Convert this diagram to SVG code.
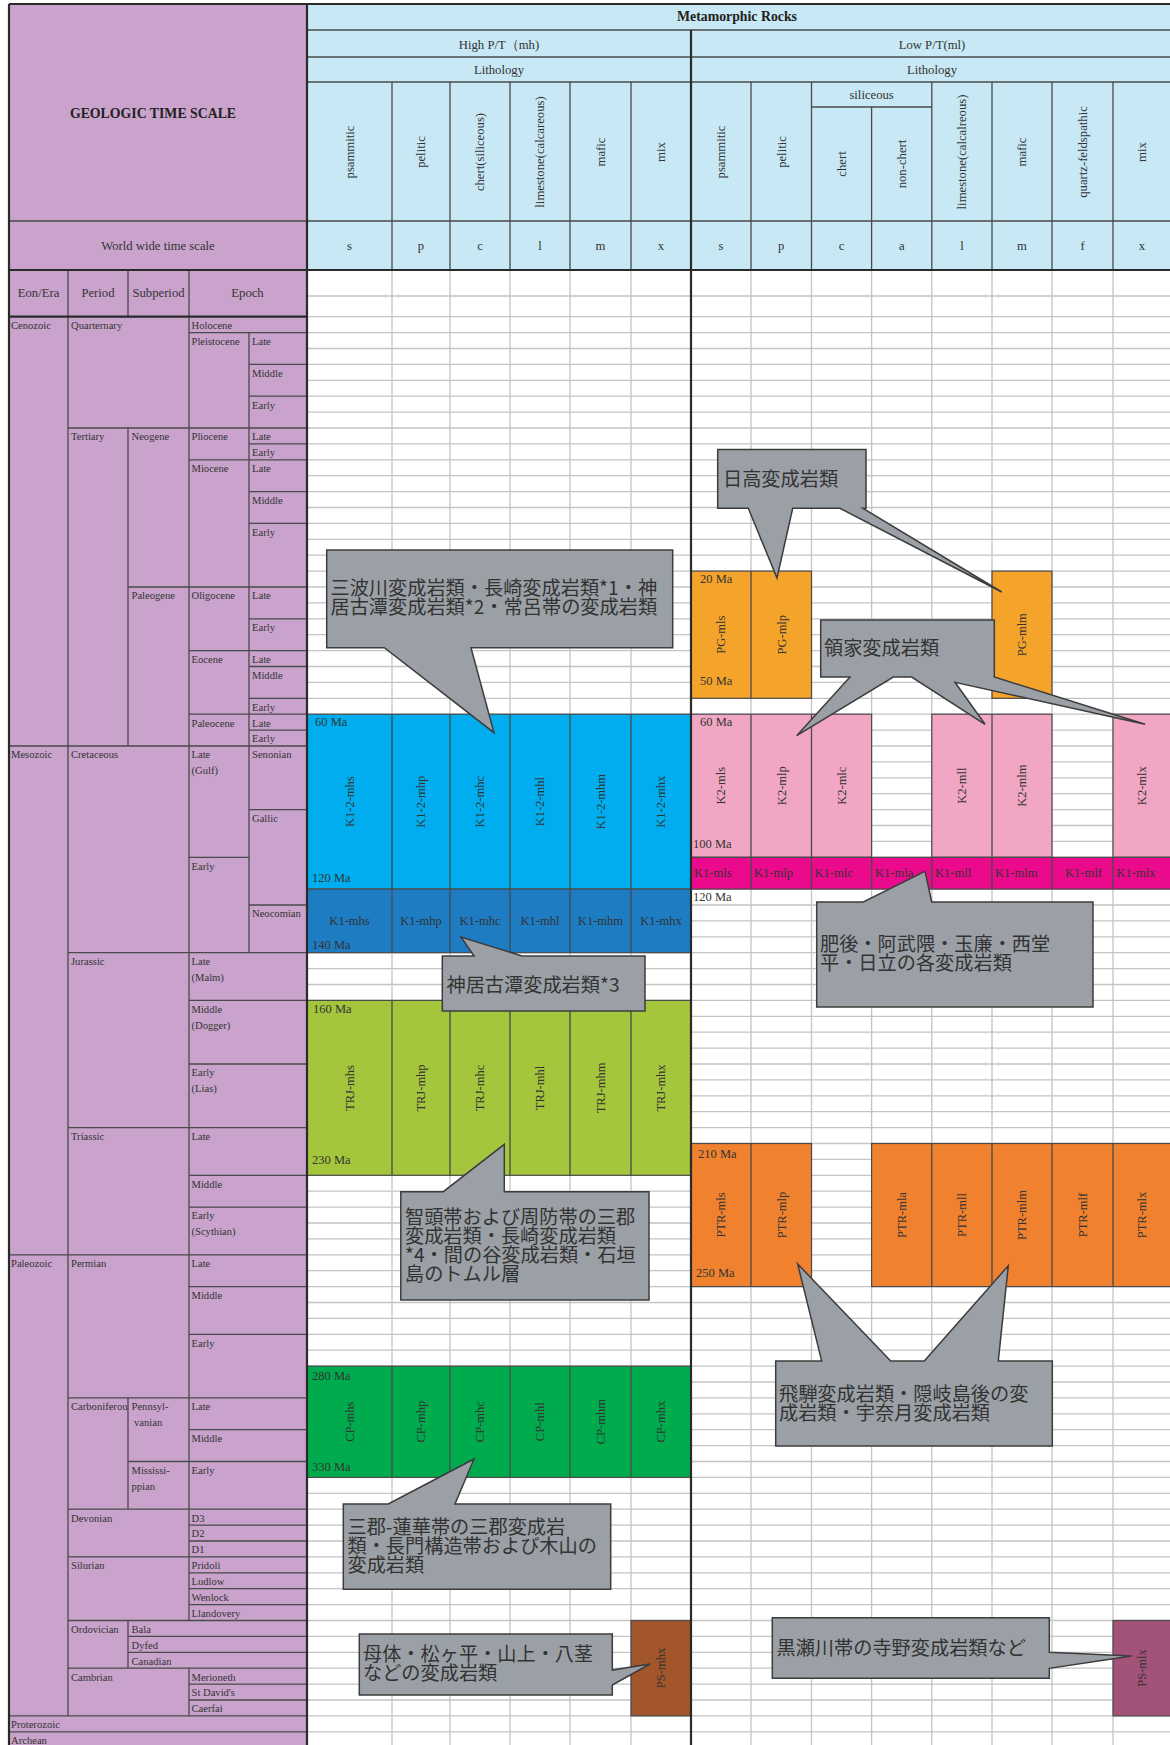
<svg xmlns="http://www.w3.org/2000/svg" width="1170" height="1745" viewBox="0 0 1170 1745">
<style>
.ts{font-family:"Liberation Serif",serif;font-size:10.6px;fill:#333}
.hd{font-family:"Liberation Serif",serif;font-size:12.7px;fill:#333}
.hb{font-family:"Liberation Serif",serif;font-size:13.8px;font-weight:bold;fill:#222}
.bl{font-family:"Liberation Serif",serif;font-size:12.5px;fill:#333}
.co{font-family:"Noto Sans CJK JP",sans-serif;font-size:19.2px;fill:#333}
.ln{stroke:#4a4a4a;stroke-width:1.3;fill:none}
.thick{stroke:#2a2a2a;stroke-width:2.2;fill:none}
.gl{stroke:#c4c4c4;stroke-width:1.3;fill:none}
.blk{stroke:#4a4a4a;stroke-width:1.2}
.call{fill:#9aa0a6;stroke:#3c3c3c;stroke-width:1.5}
.mid{text-anchor:middle}
</style>
<rect width="1170" height="1745" fill="#fff"/>

<!-- Timescale (purple) -->
<g id="timescale">
<rect x="9" y="4" width="298" height="1745" fill="#c9a3cc"/>
<path class="ln" d="M9 221H307 M9 746H307 M9 1254.8H307 M9 1715.9H307 M9 1731.8H307
M68 270V1715.9
M128 270V316.7 M128 428V746 M128 1397.9V1509.2 M128 1620.5V1668.2
M189 270V1620.5 M189 1668.2V1715.9
M249 332.6V952.7
M68 428H307 M68 952.7H307 M68 1127.6H307 M68 1397.9H307 M68 1509.2H307 M68 1556.9H307 M68 1620.5H307 M68 1668.2H307
M128 587H307 M128 1461.5H307 M128 1636.4H307 M128 1652.3H307
M189 332.6H307 M189 459.8H307 M189 650.6H307 M189 714.2H307 M189 1000.4H307 M189 1064H307 M189 1175.3H307 M189 1207.1H307 M189 1286.6H307 M189 1334.3H307 M189 1429.7H307 M189 1525.1H307 M189 1541H307 M189 1572.8H307 M189 1588.7H307 M189 1604.6H307 M189 1684.1H307 M189 1700H307
M189 857.3H249
M249 364.4H307 M249 396.2H307 M249 443.9H307 M249 491.6H307 M249 523.4H307 M249 618.8H307 M249 666.5H307 M249 698.3H307 M249 730.1H307 M249 809.6H307 M249 905H307"/>
<text class="hb mid" x="153" y="117.5">GEOLOGIC TIME SCALE</text>
<text class="hd mid" x="158" y="250">World wide time scale</text>
<text class="hd mid" x="38.5" y="297">Eon/Era</text>
<text class="hd mid" x="98" y="297">Period</text>
<text class="hd mid" x="158.5" y="297">Subperiod</text>
<text class="hd mid" x="247.5" y="297">Epoch</text>
<g class="ts">
<text x="11" y="329">Cenozoic</text>
<text x="11" y="758.3">Mesozoic</text>
<text x="11" y="1267.1">Paleozoic</text>
<text x="11" y="1728.2">Proterozoic</text>
<text x="11" y="1744">Archean</text>
<text x="71" y="329">Quarternary</text>
<text x="71" y="440.3">Tertiary</text>
<text x="71" y="758.3">Cretaceous</text>
<text x="71" y="965">Jurassic</text>
<text x="71" y="1139.9">Triassic</text>
<text x="71" y="1267.1">Permian</text>
<text x="71" y="1410.2">Carboniferou</text>
<text x="71" y="1521.5">Devonian</text>
<text x="71" y="1569.2">Silurian</text>
<text x="71" y="1632.8">Ordovician</text>
<text x="71" y="1680.5">Cambrian</text>
<text x="131.5" y="440.3">Neogene</text>
<text x="131.5" y="599.3">Paleogene</text>
<text x="131.5" y="1410.2">Pennsyl-</text>
<text x="134" y="1426.1">vanian</text>
<text x="131.5" y="1473.8">Mississi-</text>
<text x="131.5" y="1489.7">ppian</text>
<text x="131.5" y="1632.8">Bala</text>
<text x="131.5" y="1648.7">Dyfed</text>
<text x="131.5" y="1664.6">Canadian</text>
<text x="191.5" y="329">Holocene</text>
<text x="191.5" y="344.9">Pleistocene</text>
<text x="191.5" y="440.3">Pliocene</text>
<text x="191.5" y="472.1">Miocene</text>
<text x="191.5" y="599.3">Oligocene</text>
<text x="191.5" y="662.9">Eocene</text>
<text x="191.5" y="726.5">Paleocene</text>
<text x="191.5" y="758.3">Late</text>
<text x="191.5" y="774.2">(Gulf)</text>
<text x="191.5" y="869.6">Early</text>
<text x="191.5" y="965">Late</text>
<text x="191.5" y="980.9">(Malm)</text>
<text x="191.5" y="1012.7">Middle</text>
<text x="191.5" y="1028.6">(Dogger)</text>
<text x="191.5" y="1076.3">Early</text>
<text x="191.5" y="1092.2">(Lias)</text>
<text x="191.5" y="1139.9">Late</text>
<text x="191.5" y="1187.6">Middle</text>
<text x="191.5" y="1219.4">Early</text>
<text x="191.5" y="1235.3">(Scythian)</text>
<text x="191.5" y="1267.1">Late</text>
<text x="191.5" y="1298.9">Middle</text>
<text x="191.5" y="1346.6">Early</text>
<text x="191.5" y="1410.2">Late</text>
<text x="191.5" y="1442">Middle</text>
<text x="191.5" y="1473.8">Early</text>
<text x="191.5" y="1521.5">D3</text>
<text x="191.5" y="1537.4">D2</text>
<text x="191.5" y="1553.3">D1</text>
<text x="191.5" y="1569.2">Pridoli</text>
<text x="191.5" y="1585.1">Ludlow</text>
<text x="191.5" y="1601">Wenlock</text>
<text x="191.5" y="1616.9">Llandovery</text>
<text x="191.5" y="1680.5">Merioneth</text>
<text x="191.5" y="1696.4">St David's</text>
<text x="191.5" y="1712.3">Caerfai</text>
<text x="252" y="344.9">Late</text>
<text x="252" y="376.7">Middle</text>
<text x="252" y="408.5">Early</text>
<text x="252" y="440.3">Late</text>
<text x="252" y="456.2">Early</text>
<text x="252" y="472.1">Late</text>
<text x="252" y="503.9">Middle</text>
<text x="252" y="535.7">Early</text>
<text x="252" y="599.3">Late</text>
<text x="252" y="631.1">Early</text>
<text x="252" y="662.9">Late</text>
<text x="252" y="678.8">Middle</text>
<text x="252" y="710.6">Early</text>
<text x="252" y="726.5">Late</text>
<text x="252" y="742.4">Early</text>
<text x="252" y="758.3">Senonian</text>
<text x="252" y="821.9">Gallic</text>
<text x="252" y="917.3">Neocomian</text>
</g>
</g>

<!-- Metamorphic rocks header (blue) -->
<g id="header">
<rect x="307" y="4" width="866" height="266" fill="#c7e8f4"/>
<path class="ln" d="M307 30H1171 M307 57H1171 M307 82H1171 M811.5 107H931.8 M307 221H1171
M392 82V270 M450 82V270 M510 82V270 M570 82V270 M631 82V270
M751 82V270 M811.5 82V270 M871.6 107V270 M931.8 82V270 M992 82V270 M1052 82V270 M1113 82V270"/>
<text class="hb mid" x="737" y="21">Metamorphic Rocks</text>
<text class="hd mid" x="499" y="49">High P/T（mh)</text>
<text class="hd mid" x="932" y="49">Low P/T(ml)</text>
<text class="hd mid" x="499" y="74">Lithology</text>
<text class="hd mid" x="932" y="74">Lithology</text>
<text class="hd mid" x="871.6" y="99">siliceous</text>
<g class="hd mid">
<text transform="translate(349.5,152) rotate(-90)" dy=".35em">psammitic</text>
<text transform="translate(421,152) rotate(-90)" dy=".35em">pelitic</text>
<text transform="translate(480,152) rotate(-90)" dy=".35em">chert(siliceous)</text>
<text transform="translate(540,152) rotate(-90)" dy=".35em">limestone(calcareous)</text>
<text transform="translate(600.5,152) rotate(-90)" dy=".35em">mafic</text>
<text transform="translate(661,152) rotate(-90)" dy=".35em">mix</text>
<text transform="translate(721,152) rotate(-90)" dy=".35em">psammitic</text>
<text transform="translate(781.2,152) rotate(-90)" dy=".35em">pelitic</text>
<text transform="translate(841.5,164) rotate(-90)" dy=".35em">chert</text>
<text transform="translate(901.7,164) rotate(-90)" dy=".35em">non-chert</text>
<text transform="translate(961.9,152) rotate(-90)" dy=".35em">limestone(calcalreous)</text>
<text transform="translate(1022,152) rotate(-90)" dy=".35em">mafic</text>
<text transform="translate(1082.5,152) rotate(-90)" dy=".35em">quartz-feldspathic</text>
<text transform="translate(1142,152) rotate(-90)" dy=".35em">mix</text>
<text x="349.5" y="250">s</text><text x="421" y="250">p</text><text x="480" y="250">c</text><text x="540" y="250">l</text><text x="600.5" y="250">m</text><text x="661" y="250">x</text>
<text x="721" y="250">s</text><text x="781.2" y="250">p</text><text x="841.5" y="250">c</text><text x="901.7" y="250">a</text><text x="961.9" y="250">l</text><text x="1022" y="250">m</text><text x="1082.5" y="250">f</text><text x="1142" y="250">x</text>
</g>
</g>

<!-- Grid -->
<g id="grid">
<path class="gl" d="M307 296H1171 M307 316.7H1171 M307 332.6H1171 M307 348.5H1171 M307 364.4H1171 M307 380.3H1171 M307 396.2H1171 M307 412.1H1171 M307 428H1171 M307 443.9H1171 M307 459.8H1171 M307 475.7H1171 M307 491.6H1171 M307 507.5H1171 M307 523.4H1171 M307 539.3H1171 M307 555.2H1171 M307 571.1H1171 M307 587H1171 M307 602.9H1171 M307 618.8H1171 M307 634.7H1171 M307 650.6H1171 M307 666.5H1171 M307 682.4H1171 M307 698.3H1171 M307 714.2H1171 M307 730.1H1171 M307 746H1171 M307 761.9H1171 M307 777.8H1171 M307 793.7H1171 M307 809.6H1171 M307 825.5H1171 M307 841.4H1171 M307 857.3H1171 M307 873.2H1171 M307 889.1H1171 M307 905H1171 M307 920.9H1171 M307 936.8H1171 M307 952.7H1171 M307 968.6H1171 M307 984.5H1171 M307 1000.4H1171 M307 1016.3H1171 M307 1032.2H1171 M307 1048.1H1171 M307 1064H1171 M307 1079.9H1171 M307 1095.8H1171 M307 1111.7H1171 M307 1127.6H1171 M307 1143.5H1171 M307 1159.4H1171 M307 1175.3H1171 M307 1191.2H1171 M307 1207.1H1171 M307 1223H1171 M307 1238.9H1171 M307 1254.8H1171 M307 1270.7H1171 M307 1286.6H1171 M307 1302.5H1171 M307 1318.4H1171 M307 1334.3H1171 M307 1350.2H1171 M307 1366.1H1171 M307 1382H1171 M307 1397.9H1171 M307 1413.8H1171 M307 1429.7H1171 M307 1445.6H1171 M307 1461.5H1171 M307 1477.4H1171 M307 1493.3H1171 M307 1509.2H1171 M307 1525.1H1171 M307 1541H1171 M307 1556.9H1171 M307 1572.8H1171 M307 1588.7H1171 M307 1604.6H1171 M307 1620.5H1171 M307 1636.4H1171 M307 1652.3H1171 M307 1668.2H1171 M307 1684.1H1171 M307 1700H1171 M307 1715.9H1171 M307 1731.8H1171
M392 270V1745 M450 270V1745 M510 270V1745 M570 270V1745 M631 270V1745 M751 270V1745 M811.5 270V1745 M871.6 270V1745 M931.8 270V1745 M992 270V1745 M1052 270V1745 M1113 270V1745"/>
</g>

<!-- High P/T blocks -->
<g id="block-K1-2-mh">
<rect class="blk" x="307" y="714.2" width="384" height="174.9" fill="#00aeef"/>
<path class="ln" d="M392 714.2V889.1 M450 714.2V889.1 M510 714.2V889.1 M570 714.2V889.1 M631 714.2V889.1"/>
<g class="bl mid">
<text transform="translate(349.5,801.7) rotate(-90)" dy=".35em">K1-2-mhs</text>
<text transform="translate(421,801.7) rotate(-90)" dy=".35em">K1-2-mhp</text>
<text transform="translate(480,801.7) rotate(-90)" dy=".35em">K1-2-mhc</text>
<text transform="translate(540,801.7) rotate(-90)" dy=".35em">K1-2-mhl</text>
<text transform="translate(600.5,801.7) rotate(-90)" dy=".35em">K1-2-mhm</text>
<text transform="translate(661,801.7) rotate(-90)" dy=".35em">K1-2-mhx</text>
</g>
<text class="bl" x="315" y="726">60 Ma</text>
<text class="bl" x="312" y="882">120 Ma</text>
</g>
<g id="block-K1-mh">
<rect class="blk" x="307" y="889.1" width="384" height="63.6" fill="#1e7cc2"/>
<path class="ln" d="M392 889.1V952.7 M450 889.1V952.7 M510 889.1V952.7 M570 889.1V952.7 M631 889.1V952.7"/>
<g class="bl mid">
<text x="349.5" y="925">K1-mhs</text><text x="421" y="925">K1-mhp</text><text x="480" y="925">K1-mhc</text><text x="540" y="925">K1-mhl</text><text x="600.5" y="925">K1-mhm</text><text x="661" y="925">K1-mhx</text>
</g>
<text class="bl" x="312" y="949">140 Ma</text>
</g>
<g id="block-TRJ-mh">
<rect class="blk" x="307" y="1000.4" width="384" height="174.9" fill="#a4c63c"/>
<path class="ln" d="M392 1000.4V1175.3 M450 1000.4V1175.3 M510 1000.4V1175.3 M570 1000.4V1175.3 M631 1000.4V1175.3"/>
<g class="bl mid">
<text transform="translate(349.5,1088) rotate(-90)" dy=".35em">TRJ-mhs</text>
<text transform="translate(421,1088) rotate(-90)" dy=".35em">TRJ-mhp</text>
<text transform="translate(480,1088) rotate(-90)" dy=".35em">TRJ-mhc</text>
<text transform="translate(540,1088) rotate(-90)" dy=".35em">TRJ-mhl</text>
<text transform="translate(600.5,1088) rotate(-90)" dy=".35em">TRJ-mhm</text>
<text transform="translate(661,1088) rotate(-90)" dy=".35em">TRJ-mhx</text>
</g>
<text class="bl" x="313" y="1013">160 Ma</text>
<text class="bl" x="312" y="1164">230 Ma</text>
</g>
<g id="block-CP-mh">
<rect class="blk" x="307" y="1366.1" width="384" height="111.3" fill="#00ab4e"/>
<path class="ln" d="M392 1366.1V1477.4 M450 1366.1V1477.4 M510 1366.1V1477.4 M570 1366.1V1477.4 M631 1366.1V1477.4"/>
<g class="bl mid">
<text transform="translate(349.5,1421.7) rotate(-90)" dy=".35em">CP-mhs</text>
<text transform="translate(421,1421.7) rotate(-90)" dy=".35em">CP-mhp</text>
<text transform="translate(480,1421.7) rotate(-90)" dy=".35em">CP-mhc</text>
<text transform="translate(540,1421.7) rotate(-90)" dy=".35em">CP-mhl</text>
<text transform="translate(600.5,1421.7) rotate(-90)" dy=".35em">CP-mhm</text>
<text transform="translate(661,1421.7) rotate(-90)" dy=".35em">CP-mhx</text>
</g>
<text class="bl" x="312" y="1380">280 Ma</text>
<text class="bl" x="312" y="1471">330 Ma</text>
</g>
<g id="block-PS-mhx">
<rect class="blk" x="631" y="1620.5" width="60" height="95.4" fill="#a3552b"/>
<text class="bl mid" transform="translate(661,1668) rotate(-90)" dy=".35em">PS-mhx</text>
</g>

<!-- Low P/T blocks -->
<g id="block-PG-ml">
<rect class="blk" x="691" y="571.1" width="120.5" height="127.2" fill="#f4a32b"/>
<path class="ln" d="M751 571.1V698.3"/>
<rect class="blk" x="992" y="571.1" width="60" height="127.2" fill="#f4a32b"/>
<g class="bl mid">
<text transform="translate(721,634.7) rotate(-90)" dy=".35em">PG-mls</text>
<text transform="translate(781.2,634.7) rotate(-90)" dy=".35em">PG-mlp</text>
<text transform="translate(1022,634.7) rotate(-90)" dy=".35em">PG-mlm</text>
</g>
<text class="bl" x="700" y="583">20 Ma</text>
<text class="bl" x="700" y="685">50 Ma</text>
</g>
<g id="block-K2-ml">
<rect class="blk" x="691" y="714.2" width="180.6" height="143.1" fill="#f1a7c3"/>
<path class="ln" d="M751 714.2V857.3 M811.5 714.2V857.3"/>
<rect class="blk" x="931.8" y="714.2" width="120.2" height="143.1" fill="#f1a7c3"/>
<path class="ln" d="M992 714.2V857.3"/>
<rect class="blk" x="1113" y="714.2" width="60" height="143.1" fill="#f1a7c3"/>
<g class="bl mid">
<text transform="translate(721,785.7) rotate(-90)" dy=".35em">K2-mls</text>
<text transform="translate(781.2,785.7) rotate(-90)" dy=".35em">K2-mlp</text>
<text transform="translate(841.5,785.7) rotate(-90)" dy=".35em">K2-mlc</text>
<text transform="translate(961.9,785.7) rotate(-90)" dy=".35em">K2-mll</text>
<text transform="translate(1022,785.7) rotate(-90)" dy=".35em">K2-mlm</text>
<text transform="translate(1142,785.7) rotate(-90)" dy=".35em">K2-mlx</text>
</g>
<text class="bl" x="700" y="726">60 Ma</text>
<text class="bl" x="693" y="848">100 Ma</text>
</g>
<g id="block-K1-ml">
<rect class="blk" x="691" y="857.3" width="482" height="31.8" fill="#ec0a8c"/>
<path class="ln" d="M751 857.3V889.1 M811.5 857.3V889.1 M871.6 857.3V889.1 M931.8 857.3V889.1 M992 857.3V889.1 M1052 857.3V889.1 M1113 857.3V889.1"/>
<g class="bl">
<text x="694" y="877">K1-mls</text><text x="754" y="877">K1-mlp</text><text x="814.5" y="877">K1-mlc</text><text x="875" y="877">K1-mla</text><text x="935" y="877">K1-mll</text><text x="995" y="877">K1-mlm</text><text x="1065" y="877">K1-mlf</text><text x="1116.5" y="877">K1-mlx</text>
</g>
<text class="bl" x="693" y="901">120 Ma</text>
</g>
<g id="block-PTR-ml">
<rect class="blk" x="691" y="1143.5" width="120.5" height="143.1" fill="#f0822f"/>
<path class="ln" d="M751 1143.5V1286.6"/>
<rect class="blk" x="871.6" y="1143.5" width="301.4" height="143.1" fill="#f0822f"/>
<path class="ln" d="M931.8 1143.5V1286.6 M992 1143.5V1286.6 M1052 1143.5V1286.6 M1113 1143.5V1286.6"/>
<g class="bl mid">
<text transform="translate(721,1215) rotate(-90)" dy=".35em">PTR-mls</text>
<text transform="translate(781.2,1215) rotate(-90)" dy=".35em">PTR-mlp</text>
<text transform="translate(901.7,1215) rotate(-90)" dy=".35em">PTR-mla</text>
<text transform="translate(961.9,1215) rotate(-90)" dy=".35em">PTR-mll</text>
<text transform="translate(1022,1215) rotate(-90)" dy=".35em">PTR-mlm</text>
<text transform="translate(1082.5,1215) rotate(-90)" dy=".35em">PTR-mlf</text>
<text transform="translate(1142,1215) rotate(-90)" dy=".35em">PTR-mlx</text>
</g>
<text class="bl" x="698" y="1158">210 Ma</text>
<text class="bl" x="696" y="1277">250 Ma</text>
</g>
<g id="block-PS-mlx">
<rect class="blk" x="1113" y="1620.5" width="60" height="95.4" fill="#a3527a"/>
<text class="bl mid" transform="translate(1142,1668) rotate(-90)" dy=".35em">PS-mlx</text>
</g>

<!-- Frame lines -->
<g id="frame">
<path class="thick" d="M9 4H1171 M9 4V1745 M307 4V1745 M691 30V1745 M9 270H1171 M9 316.7H307"/>
</g>

<g id="connectors"></g>

<!-- Callouts -->
<g id="callout-sanbagawa">
<path class="call" d="M326.7 550H672.7V647.7H471L494 732.7L384.3 647.7H326.7Z"/>
<text class="co" x="330.5" y="595">三波川変成岩類・長崎変成岩類*1・神</text>
<text class="co" x="330.5" y="614">居古潭変成岩類*2・常呂帯の変成岩類</text>
</g>
<g id="callout-hidaka">
<path class="call" d="M717.7 449.5H866V508.3H863L1001.7 592L840 508.3H792.7L777 578L748.3 508.3H717.7Z"/>
<text class="co" x="723" y="486">日高変成岩類</text>
</g>
<g id="callout-ryoke">
<path class="call" d="M820.7 620H994.3V677L1145 724.3L955 682.3L985 724.3L911.7 677H893.3L796.7 735.7L850 677H820.7Z"/>
<text class="co" x="824" y="655">領家変成岩類</text>
</g>
<g id="callout-higo">
<path class="call" d="M816.7 902H863.3L925 871.3L931.7 902H1093V1007H816.7Z"/>
<text class="co" x="820" y="951">肥後・阿武隈・玉廉・西堂</text>
<text class="co" x="820" y="970">平・日立の各変成岩類</text>
</g>
<g id="callout-kamuikotan">
<path class="call" d="M442.3 956H474L461 937L522 956H645V1011H442.3Z"/>
<text class="co" x="446.5" y="992">神居古潭変成岩類*3</text>
</g>
<g id="callout-chizu">
<path class="call" d="M400.8 1191.7H443.3L504.3 1144.3V1191.7H649V1300H400.8Z"/>
<text class="co" x="405" y="1224">智頭帯および周防帯の三郡</text>
<text class="co" x="405" y="1243">変成岩類・長崎変成岩類</text>
<text class="co" x="405" y="1262">*4・間の谷変成岩類・石垣</text>
<text class="co" x="405" y="1281">島のトムル層</text>
</g>
<g id="callout-hida">
<path class="call" d="M775.7 1361H821.7L797.7 1264L890.7 1361H924.3L1008.3 1265.7L998.3 1361H1052.3V1446H775.7Z"/>
<text class="co" x="779" y="1400.5">飛騨変成岩類・隠岐島後の変</text>
<text class="co" x="779" y="1419.5">成岩類・宇奈月変成岩類</text>
</g>
<g id="callout-sangun">
<path class="call" d="M343.3 1504H388.3L474 1459L455 1504H610.7V1589.3H343.3Z"/>
<text class="co" x="347.5" y="1534">三郡-蓮華帯の三郡変成岩</text>
<text class="co" x="347.5" y="1553">類・長門構造帯および木山の</text>
<text class="co" x="347.5" y="1572">変成岩類</text>
</g>
<g id="callout-motai">
<path class="call" d="M359.3 1634H612.3V1670L650 1664L612.3 1685V1695H359.3Z"/>
<text class="co" x="363" y="1660.5">母体・松ヶ平・山上・八茎</text>
<text class="co" x="363" y="1680">などの変成岩類</text>
</g>
<g id="callout-kurosegawa">
<path class="call" d="M772.3 1617.7H1049.3V1652.3L1131.7 1656L1049.3 1668.3V1678.3H772.3Z"/>
<text class="co" x="776.5" y="1654.5">黒瀬川帯の寺野変成岩類など</text>
</g>
</svg>
